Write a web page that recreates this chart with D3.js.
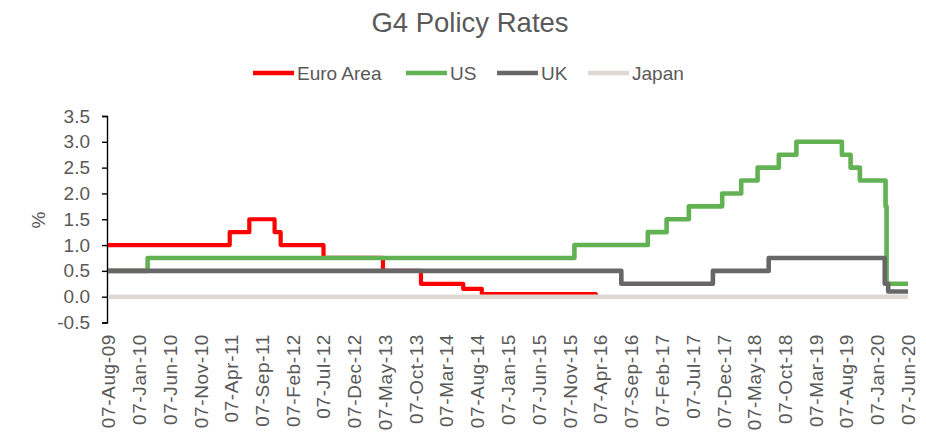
<!DOCTYPE html>
<html><head><meta charset="utf-8">
<script src="https://cdn.jsdelivr.net/npm/d3@7"></script>
<style>
html,body{margin:0;padding:0;background:#fff;}
svg{display:block;font-family:"Liberation Sans",Arial,sans-serif;}
</style></head>
<body>
<svg id="chart" width="926" height="437"></svg>
<script>
// ---- Data ----
const startDate = "2009-08-07";
const endDate = "2020-06-07";

const euroDates = ["2009-08-07","2011-04-01","2011-07-07","2011-11-09","2011-12-09","2012-07-08","2013-04-28","2013-11-02","2014-05-30","2014-08-30","2016-03-16"];
const euroRates = [1.0, 1.25, 1.5, 1.25, 1.0, 0.75, 0.5, 0.25, 0.15, 0.05, 0.0];
const euroEndDate = "2016-03-16";

const usDates = ["2009-08-07","2010-02-19","2015-12-01","2016-11-28","2017-03-01","2017-06-19","2017-12-01","2018-03-05","2018-05-25","2018-09-07","2018-12-03","2019-07-16","2019-08-28","2019-10-13","2020-02-17","2020-02-22"];
const usRates = [0.5, 0.75, 1.0, 1.25, 1.5, 1.75, 2.0, 2.25, 2.5, 2.75, 3.0, 2.75, 2.5, 2.25, 1.75, 0.25];

const ukDates = ["2009-08-07","2016-07-20","2017-10-16","2018-07-19","2020-02-13","2020-03-01"];
const ukRates = [0.5, 0.25, 0.5, 0.75, 0.25, 0.1];

const japanDates = ["2009-08-07"];
const japanRates = [0.0];

const seriesNames = ["Euro Area","US","UK","Japan"];
const seriesColors = ["#FF0000","#62B254","#676767","#DDD8D3"];

const yTicks = [-0.5,0.0,0.5,1.0,1.5,2.0,2.5,3.0,3.5];
// x tick labels: every 5 months starting 07-Aug-09
const xTickLabels = ["07-Aug-09","07-Jan-10","07-Jun-10","07-Nov-10","07-Apr-11","07-Sep-11","07-Feb-12","07-Jul-12","07-Dec-12","07-May-13","07-Oct-13","07-Mar-14","07-Aug-14","07-Jan-15","07-Jun-15","07-Nov-15","07-Apr-16","07-Sep-16","07-Feb-17","07-Jul-17","07-Dec-17","07-May-18","07-Oct-18","07-Mar-19","07-Aug-19","07-Jan-20","07-Jun-20"];

// ---- Chart ----
const parse = d3.timeParse("%Y-%m-%d");
const parseLabel = d3.timeParse("%d-%b-%y");
const svg = d3.select("#chart");
const textColor = "#595959";

const x = d3.scaleTime().domain([parse(startDate), parse(endDate)]).range([108, 908]);
const y = d3.scaleLinear().domain([-0.5, 3.5]).range([322.5, 116]);

// title
svg.append("text").attr("x", 470).attr("y", 32).attr("text-anchor","middle")
  .attr("font-size", 27.5).attr("fill", textColor).text("G4 Policy Rates");

// legend
const legendX = [253, 406, 497, 588];
const lg = svg.append("g");
seriesNames.forEach((n,i)=>{
  lg.append("line").attr("x1", legendX[i]).attr("x2", legendX[i]+41).attr("y1",73).attr("y2",73)
    .attr("stroke", seriesColors[i]).attr("stroke-width",4.5);
  lg.append("text").attr("x", legendX[i]+44).attr("y", 80).attr("font-size",19)
    .attr("fill", textColor).text(n);
});

// y axis
const yAxis = svg.append("g").attr("transform","translate(107,0)")
  .call(d3.axisLeft(y).tickValues(yTicks).tickSize(5).tickPadding(12).tickFormat(d=>d.toFixed(1)));
yAxis.select(".domain").attr("stroke","#000").attr("stroke-width",1.4);
yAxis.selectAll(".tick line").attr("stroke","#000").attr("stroke-width",1.4);
yAxis.selectAll(".tick text").attr("font-size",19).attr("fill",textColor)
  .attr("font-family",'"Liberation Sans",Arial,sans-serif');

// y label
svg.append("text").attr("transform","translate(45,220) rotate(-90)").attr("text-anchor","middle")
  .attr("font-size",19).attr("fill",textColor).text("%");

// x axis labels
const xTickDates = xTickLabels.map(s=>parseLabel(s));
const xAxis = svg.append("g").attr("transform","translate(0,334)")
  .call(d3.axisBottom(x).tickValues(xTickDates).tickSize(0).tickFormat(d3.timeFormat("%d-%b-%y")));
xAxis.select(".domain").remove();
xAxis.selectAll(".tick text")
  .attr("font-size",19).attr("fill",textColor).attr("letter-spacing","0.6px")
  .attr("font-family",'"Liberation Sans",Arial,sans-serif')
  .attr("text-anchor","end").attr("transform","rotate(-90)")
  .attr("x",0).attr("y",0).attr("dy","0.35em");

// lines
const line = d3.line().x(d=>x(d.date)).y(d=>y(d.v)).curve(d3.curveStepAfter);
function build(dates, rates, last){
  const pts = dates.map((d,i)=>({date: parse(d), v: rates[i]}));
  if (last !== dates[dates.length-1]) pts.push({date: parse(last), v: rates[rates.length-1]});
  return pts;
}
const allSeries = [build(euroDates,euroRates,euroEndDate), build(usDates,usRates,endDate), build(ukDates,ukRates,endDate), build(japanDates,japanRates,endDate)];
const widths = [4.2, 4.6, 4.6, 4.6];
allSeries.forEach((s,i)=>{
  svg.append("path").datum(s).attr("d", line).attr("fill","none")
    .attr("stroke", seriesColors[i]).attr("stroke-width",widths[i])
    .attr("stroke-linejoin","round").attr("stroke-linecap","butt");
});
</script>
</body></html>
